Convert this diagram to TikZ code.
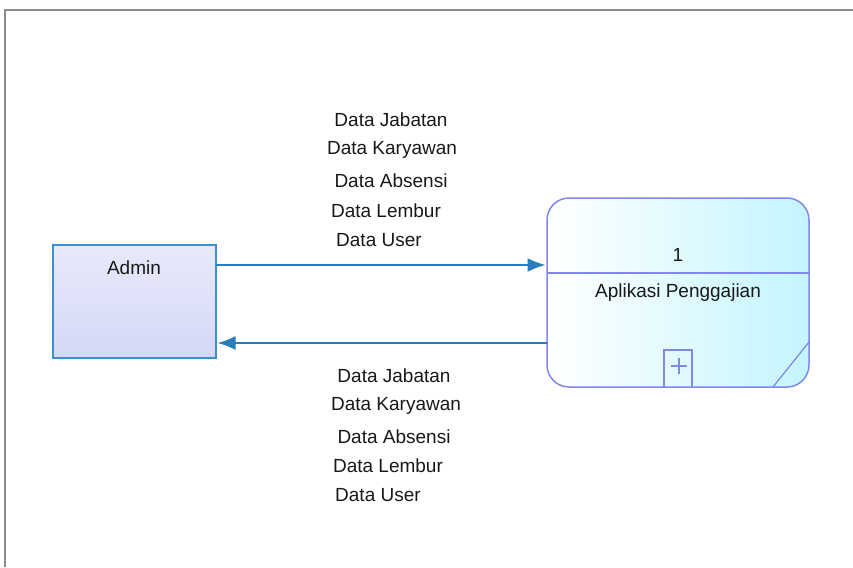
\documentclass[tikz,border=0pt]{standalone}
\usepackage{fontspec}
\setmainfont{Liberation Sans}
\usetikzlibrary{arrows.meta,shadings}
\definecolor{flowblue}{RGB}{40,125,190}
\definecolor{entborder}{RGB}{60,145,205}
\definecolor{entfill}{RGB}{212,216,246}
\definecolor{procborder}{RGB}{130,135,235}
\definecolor{procfill}{RGB}{195,245,255}
\definecolor{framegray}{RGB}{140,140,140}
\tikzset{
  lbl/.style={font=\fontsize{19}{22}\selectfont, text=black!90, inner sep=0pt},
  flow/.style={draw=flowblue, line width=1.8pt, -{Latex[length=18pt,width=14pt]}, shorten >=1.5pt},
}
\begin{document}
\begin{tikzpicture}[x=1pt,y=-1pt]
\useasboundingbox (0,0) rectangle (853,567);
\fill[white] (0,0) rectangle (853,567);
% frame
\draw[framegray, line width=2pt] (5,567) -- (5,10) -- (853,10);
% Admin entity
\shade[top color=entfill!55, bottom color=entfill, shading angle=0] (53,245) rectangle (216,358);
\draw[entborder, line width=1.5pt] (53,245) rectangle (216,358);
\node[inner sep=0, minimum width=163pt, minimum height=113pt, anchor=north west] (admin) at (53,245) {};
\node[lbl] (admintxt) at (134,268) {Admin};
% Process
\shade[left color=white, right color=procfill, rounded corners=22pt] (547,198) rectangle (809,387);
\node[inner sep=0, minimum width=262pt, minimum height=189pt, anchor=north west] (proc) at (547,198) {};
\draw[procborder, line width=1.5pt] (547,273) -- (809,273);
\draw[procborder, line width=1.4pt] (664,387) -- (664,350) -- (692,350) -- (692,387);
\draw[procborder, line width=1.4pt] (671,366) -- (687,366) (679,358) -- (679,374);
\draw[procborder, line width=1.2pt] (773,387) -- (809,342);
\draw[procborder, line width=1.5pt, rounded corners=22pt] (547,198) rectangle (809,387);
\node[lbl] (pnum) at (678,255) {1};
\node[lbl] (pname) at (678,293) {Aplikasi Penggajian};
% flows
\coordinate (a1) at (216,265);
\coordinate (p1) at (547,265);
\coordinate (a2) at (216,343);
\coordinate (p2) at (547,343);
\draw[flow] (a1) -- (p1);
\draw[flow] (p2) -- (a2);
% labels top
\node[lbl] (t1) at (391,120) {Data Jabatan};
\node[lbl] (t2) at (392,150) {Data Karyawan};
\node[lbl] (t3) at (391,181) {Data Absensi};
\node[lbl] (t4) at (386,211) {Data Lembur};
\node[lbl,anchor=west] (t5) at (336,240) {Data User};
% labels bottom
\node[lbl] (b1) at (394,376) {Data Jabatan};
\node[lbl] (b2) at (396,406) {Data Karyawan};
\node[lbl] (b3) at (394,437) {Data Absensi};
\node[lbl] (b4) at (388,466) {Data Lembur};
\node[lbl,anchor=west] (b5) at (335,495) {Data User};
\end{tikzpicture}
\end{document}
